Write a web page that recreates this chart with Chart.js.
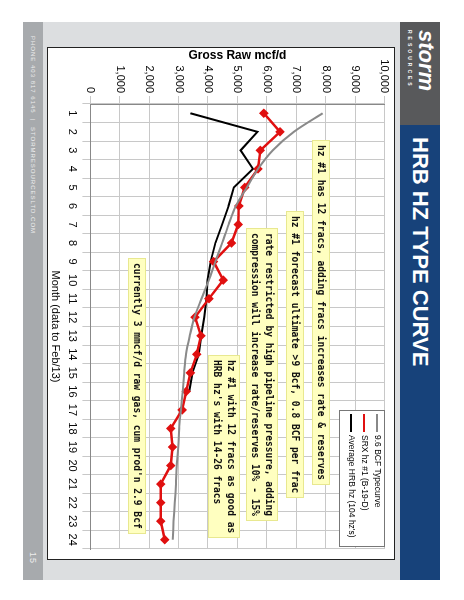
<!DOCTYPE html>
<html>
<head>
<meta charset="utf-8">
<script src="https://cdn.jsdelivr.net/npm/chart.js@4/dist/chart.umd.min.js"></script>
<style>
  body { margin: 0; background: #fff; width: 464px; height: 600px; overflow: hidden; font-family: "Liberation Sans", Arial, sans-serif; }
  #slide { position: absolute; left: 0; top: 0; width: 600px; height: 464px; transform-origin: 0 0; transform: translate(464px, 0) rotate(90deg); }
  .abs { position: absolute; }
  .note { position: absolute; background: #ffffc0; border: 1px solid #e8e890; font-family: "DejaVu Sans Mono", monospace; font-weight: bold; font-size: 9.6px; line-height: 14px; padding: 1px 4px; white-space: nowrap; color: #111; }
  #legend { position: absolute; left: 410px; top: 79px; width: 135px; height: 44px; background: #fff; border: 1px solid #777; font-size: 8.5px; }
  #legend div { position: relative; height: 13px; line-height: 13px; padding-left: 24px; }
  #legend span { position: absolute; left: 3px; top: 6px; width: 18px; height: 2px; }
</style>
</head>
<body>
<div id="slide">
  <div class="abs" style="left:22px;top:24px;width:558px;height:417px;background:#dcdee0"></div>
  <div class="abs" style="left:22px;top:24px;width:103px;height:40px;background:#58595b;color:#fff;font-weight:bold;font-style:italic;font-size:22px;line-height:28px;padding-left:8px;box-sizing:border-box">storm<div style="font-size:5px;line-height:5px;letter-spacing:3px;font-style:normal">RESOURCES</div></div>
  <div class="abs" style="left:125px;top:24px;width:455px;height:40px;background:#17427a;color:#fff;font-weight:bold;font-size:22px;line-height:40px;padding-left:12px;box-sizing:border-box">HRB HZ TYPE CURVE</div>
  <div class="abs" style="left:22px;top:421px;width:558px;height:20px;background:#a7aaad;color:#eee;font-size:6px;line-height:20px;padding-left:14px;box-sizing:border-box;letter-spacing:1px">PHONE 403 817 6145 &nbsp;|&nbsp; STORMRESOURCESLTD.COM<span style="position:absolute;left:530px;font-size:9px">15</span></div>
  <div class="abs" style="left:47px;top:69px;width:513px;height:348px;background:#fff;border:1px solid #222;box-sizing:border-box">
    <canvas id="c" width="511" height="346"></canvas>
  </div>
  <div id="legend">
    <div><span style="background:#888"></span>9.6 BCF Typecurve</div>
    <div><span style="background:#e01010"></span>SRX hz #1 (B-19-D)</div>
    <div><span style="background:#000"></span>Average HRB hz (104 hz's)</div>
  </div>
  <div class="note" style="left:140px;top:134px">hz #1 has 12 fracs, adding fracs increases rate &amp; reserves</div>
  <div class="note" style="left:211px;top:160px">hz #1 forecast ultimate &gt;9 Bcf, 0.8 BCF per frac</div>
  <div class="note" style="left:228px;top:186px">rate restricted by high pipeline pressure, adding<br>compression will increase rate/reserves 10% - 15%</div>
  <div class="note" style="left:355px;top:224px">hz #1 with 12 fracs as good as<br>HRB hz's with 14-26 fracs</div>
  <div class="note" style="left:258px;top:318px">currently 3 mmcf/d raw gas, cum prod'n 2.9 Bcf</div>
</div>
<script>
// Data
const months = ['1','2','3','4','5','6','7','8','9','10','11','12','13','14','15','16','17','18','19','20','21','22','23','24'];
const typeCurve = [7900, 6920, 6200, 5700, 5320, 4950, 4700, 4480, 4250, 4030, 3780, 3540, 3380, 3250, 3190, 3140, 3080, 3020, 2990, 2940, 2910, 2870, 2830, 2800];
const srxHz1 = [5900, 6450, 5780, 5700, 5250, 5050, 5030, 4800, 4190, 4520, 4030, 3560, 3760, 3620, 3400, 3260, 3120, 2730, 2790, 2730, 2390, 2390, 2390, 2530];
const avgHrb = [3400, 5680, 5110, 5530, 4880, 4700, 4480, 4250, 4090, 3980, 3950, 3870, 3770, 3690, 3470, 3360];

const tickFont = { family: 'Liberation Sans', size: 11 };

new Chart(document.getElementById('c'), {
    type: 'line',
    data: {
        labels: months,
        datasets: [
            { data: typeCurve, borderColor: '#8a8a8a', borderWidth: 2, pointRadius: 0, tension: 0.3 },
            { data: srxHz1, borderColor: '#e01010', backgroundColor: '#e01010', borderWidth: 2.5, pointStyle: 'rectRot', pointRadius: 3 },
            { data: avgHrb, borderColor: '#000', borderWidth: 2, pointRadius: 0 }
        ]
    },
    options: {
        responsive: false,
        animation: false,
        layout: { padding: { top: 9, right: 10, bottom: 0, left: 0 } },
        plugins: { legend: { display: false }, tooltip: { enabled: false } },
        scales: {
            x: {
                offset: true,
                grid: { color: '#c8c8c8', offset: true },
                border: { color: '#888' },
                ticks: { color: '#000', font: tickFont, maxRotation: 0, autoSkip: false, padding: 4 },
                title: { display: true, text: 'Month (data to Feb/13)', color: '#000', font: { family: 'Liberation Sans', size: 11 }, padding: 0 }
            },
            y: {
                min: 0, max: 10000,
                grid: { color: '#c8c8c8' },
                border: { color: '#888' },
                afterFit: s => { s.width = 56; },
                ticks: { stepSize: 1000, color: '#000', font: tickFont, callback: v => v.toLocaleString('en-US') },
                title: { display: true, text: 'Gross Raw mcf/d', color: '#000', font: { family: 'Liberation Sans', size: 12, weight: 'bold' }, padding: 0 }
            }
        }
    }
});
</script>
</body>
</html>
